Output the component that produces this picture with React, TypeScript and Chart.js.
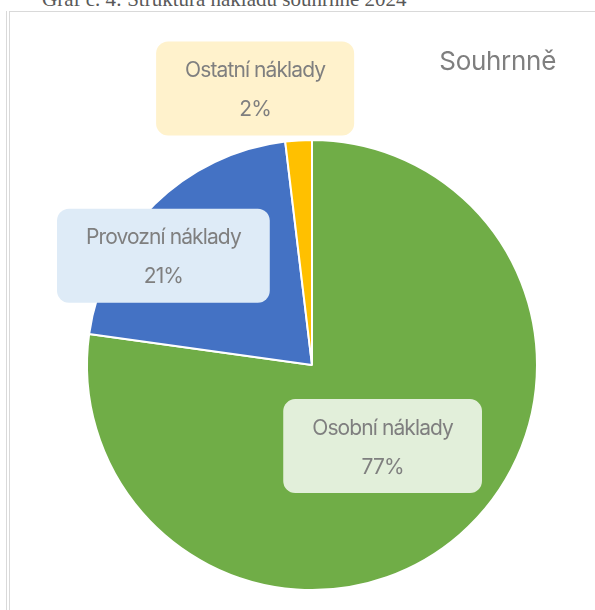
import React, { useEffect, useRef } from "react";
import { Chart, registerables } from "chart.js";

Chart.register(...registerables);

const categories = ["Osobní náklady", "Provozní náklady", "Ostatní náklady"];
const shares = [77.2, 20.9, 1.9];
const sliceColors = ["#70AD47", "#4472C4", "#FFC000"];
const labelFills = ["#E2EFDA", "#DEEBF7", "#FFF2CC"];
const chartSubtitle = "Souhrnně";
const pageTitle = "Graf č. 4: Struktura nákladů souhrnně 2024";

const calloutPlugin = {
  id: "callouts",
  afterDatasetsDraw(chart: any, _args: any, opts: any) {
    const ctx = chart.ctx as CanvasRenderingContext2D;
    const meta = chart.getDatasetMeta(0);
    const values = chart.data.datasets[0].data as number[];
    const total = values.reduce((a, b) => a + b, 0);
    meta.data.forEach((arc: any, i: number) => {
      const { x, y, startAngle, endAngle, outerRadius } = arc.getProps(
        ["x", "y", "startAngle", "endAngle", "outerRadius"],
        true
      );
      const mid = (startAngle + endAngle) / 2 + (opts.angleShift[i] * Math.PI) / 180;
      const d = outerRadius * opts.radial[i];
      const cx = x + Math.cos(mid) * d;
      const cy = y + Math.sin(mid) * d;
      const name = chart.data.labels[i] as string;
      const pct = Math.round((values[i] / total) * 100) + "%";
      ctx.save();
      ctx.font = opts.font;
      (ctx as any).letterSpacing = opts.letterSpacing;
      const tw = Math.max(ctx.measureText(name).width, ctx.measureText(pct).width);
      const w = tw + opts.padX * 2;
      const h = opts.boxHeight;
      ctx.beginPath();
      (ctx as any).roundRect(cx - w / 2, cy - h / 2, w, h, opts.cornerRadius);
      ctx.fillStyle = labelFills[i];
      ctx.fill();
      ctx.fillStyle = opts.color;
      ctx.textAlign = "center";
      ctx.textBaseline = "middle";
      ctx.fillText(name, cx, cy - opts.lineGap / 2 + opts.textShift);
      ctx.fillText(pct, cx, cy + opts.lineGap / 2 + opts.textShift);
      ctx.restore();
    });
    ctx.save();
    ctx.font = opts.subtitleFont;
    (ctx as any).letterSpacing = "-0.3px";
    ctx.fillStyle = opts.subtitleColor;
    ctx.textAlign = "right";
    ctx.textBaseline = "middle";
    ctx.fillText(chartSubtitle, opts.subtitleX, opts.subtitleY);
    ctx.restore();
  },
};

export default function App() {
  const ref = useRef<HTMLCanvasElement | null>(null);

  useEffect(() => {
    if (!ref.current) return;
    const chart = new Chart(ref.current, {
      type: "pie",
      data: {
        labels: categories,
        datasets: [
          {
            data: shares,
            backgroundColor: sliceColors,
            borderColor: "#ffffff",
            borderWidth: 2,
          },
        ],
      },
      options: {
        responsive: false,
        animation: false,
        layout: { padding: { left: 86, right: 57, top: 139, bottom: 19 } },
        plugins: {
          legend: { display: false },
          tooltip: { enabled: false },
          title: { display: false },
          callouts: {
            radial: [0.478, 0.82, 1.255],
            angleShift: [0, -9.2, -8.2],
            font: "21px Inter",
            letterSpacing: "-0.9px",
            color: "#7F7F7F",
            padX: 29,
            boxHeight: 94,
            lineGap: 39,
            textShift: 2,
            cornerRadius: 12,
            subtitleFont: "26px Inter",
            subtitleColor: "#7F7F7F",
            subtitleX: 556,
            subtitleY: 62,
          },
        } as any,
      },
      plugins: [calloutPlugin],
    });
    return () => chart.destroy();
  }, []);

  return (
    <div
      style={{
        position: "fixed",
        left: 0,
        top: 0,
        width: 595,
        height: 610,
        background: "#ffffff",
        overflow: "hidden",
      }}
    >
      <div
        style={{
          position: "absolute",
          left: 42,
          top: -11,
          fontFamily: "'Liberation Serif', 'Times New Roman', serif",
          fontSize: 21,
          lineHeight: "20px",
          color: "#595959",
          whiteSpace: "nowrap",
        }}
      >
        {pageTitle}
      </div>
      <div style={{ position: "absolute", left: 9, top: 11, right: 0, height: 1, background: "#D9D9D9" }} />
      <div style={{ position: "absolute", left: 6, top: 11, width: 1, bottom: 0, background: "#D9D9D9" }} />
      <div style={{ position: "absolute", left: 9, top: 11, width: 1, bottom: 0, background: "#D9D9D9" }} />
      <canvas
        ref={ref}
        width={595}
        height={610}
        style={{ position: "absolute", left: 0, top: 0, width: 595, height: 610 }}
      />
    </div>
  );
}
